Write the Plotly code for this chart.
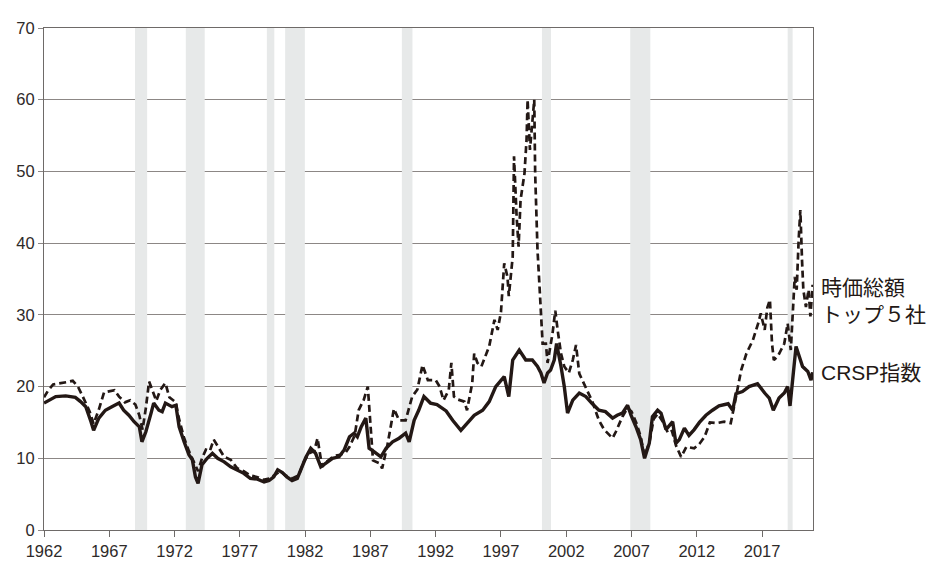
import plotly.graph_objects as go

# --- Data ---
crsp_x = [1962.0, 1962.4, 1962.9, 1963.66, 1964.4, 1964.8, 1965.2, 1965.6, 1965.8, 1966.2,
          1966.7, 1967.2, 1967.75, 1968.1, 1968.5, 1968.9, 1969.3, 1969.5, 1969.8, 1970.2,
          1970.4, 1970.8, 1971.05, 1971.3, 1971.8, 1972.1, 1972.35, 1972.73, 1973.1, 1973.36,
          1973.6, 1973.8, 1974.1, 1974.5, 1974.9, 1975.3, 1975.8, 1976.3, 1976.8, 1977.3,
          1977.8, 1978.35, 1978.86, 1979.24, 1979.6, 1979.9, 1980.26, 1980.6, 1981.0, 1981.4,
          1981.67, 1982.05, 1982.43, 1982.8, 1983.2, 1983.6, 1984.1, 1984.6, 1985.0, 1985.4,
          1985.75, 1986.0, 1986.3, 1986.65, 1986.9, 1987.3, 1987.8, 1988.2, 1988.7, 1989.2,
          1989.7, 1989.97, 1990.35, 1990.7, 1991.1, 1991.6, 1992.1, 1992.8, 1993.3, 1993.93,
          1994.4, 1994.95, 1995.6, 1996.1, 1996.6, 1997.25, 1997.6, 1997.9, 1998.4, 1998.9,
          1999.4, 1999.8, 2000.06, 2000.3, 2000.57, 2000.8, 2001.08, 2001.26, 2001.6, 2001.85,
          2002.1, 2002.5, 2003.0, 2003.5, 2004.0, 2004.5, 2005.0, 2005.55, 2005.9, 2006.3,
          2006.7, 2006.96, 2007.34, 2007.7, 2008.0, 2008.36, 2008.6, 2009.0, 2009.26, 2009.64,
          2010.15, 2010.4, 2010.66, 2011.05, 2011.4, 2011.8, 2012.2, 2012.7, 2013.2, 2013.7,
          2014.4, 2014.75, 2015.0, 2015.5, 2016.0, 2016.65, 2017.2, 2017.55, 2017.86, 2018.3,
          2018.7, 2018.96, 2019.14, 2019.35, 2019.6, 2019.85, 2020.1, 2020.5, 2020.75, 2020.87]
crsp_y = [17.7, 18.1, 18.6, 18.7, 18.5, 17.9, 17.2, 15.1, 13.9, 15.6,
          16.7, 17.2, 17.7, 16.7, 16.0, 15.1, 14.4, 12.3, 13.7, 16.3,
          17.7, 16.7, 16.5, 17.7, 17.2, 17.4, 14.4, 12.3, 10.5, 9.8,
          7.4, 6.5, 9.1, 10.0, 10.7, 10.0, 9.5, 8.8, 8.4, 7.9,
          7.2, 7.1, 6.7, 6.9, 7.4, 8.4, 8.0, 7.4, 6.9, 7.2,
          8.4, 10.1, 11.4, 10.7, 8.8, 9.3, 10.0, 10.2, 11.2, 13.0,
          13.5, 13.0, 14.4, 15.6, 11.4, 10.9, 10.2, 11.4, 12.3, 12.8,
          13.5, 12.3, 15.3, 16.7, 18.6, 17.7, 17.5, 16.6, 15.3, 13.9,
          14.9, 16.0, 16.7, 17.9, 20.0, 21.4, 18.6, 23.7, 25.1, 23.7,
          23.7, 22.8, 21.9, 20.5, 21.9, 22.3, 23.7, 26.0, 22.8, 20.0,
          16.3, 18.1, 19.1, 18.6, 17.6, 16.7, 16.5, 15.6, 16.0, 16.3,
          17.4, 16.0, 14.4, 12.6, 10.0, 12.1, 15.8, 16.7, 16.3, 14.0,
          15.1, 12.1, 12.6, 14.2, 13.2, 14.0, 15.0, 16.0, 16.7, 17.3,
          17.6, 16.7, 19.0, 19.3, 20.0, 20.4, 19.1, 18.4, 16.7, 18.4,
          19.1, 20.0, 17.3, 21.3, 25.6, 24.2, 22.8, 22.1, 20.9, 22.0]

top5_x = [1962.0, 1962.3, 1962.7, 1963.2, 1963.7, 1964.2, 1964.6, 1965.0, 1965.5, 1965.8,
          1966.2, 1966.6, 1967.0, 1967.4, 1967.75, 1968.2, 1968.6, 1969.0, 1969.3, 1969.55,
          1969.8, 1970.05, 1970.3, 1970.6, 1970.9, 1971.3, 1971.6, 1971.9, 1972.1, 1972.3,
          1972.7, 1973.1, 1973.5, 1973.8, 1974.1, 1974.4, 1974.7, 1975.0, 1975.4, 1975.8,
          1976.3, 1976.8, 1977.3, 1977.8, 1978.3, 1978.8, 1979.3, 1979.7, 1980.1, 1980.5,
          1981.0, 1981.5, 1981.9, 1982.3, 1982.7, 1982.95, 1983.3, 1983.7, 1984.2, 1984.7,
          1985.1, 1985.4, 1985.8, 1986.1, 1986.5, 1986.8, 1987.0, 1987.2, 1987.7, 1987.9,
          1988.3, 1988.8, 1989.2, 1989.7, 1990.2, 1990.6, 1990.99, 1991.4, 1992.0, 1992.3,
          1992.6, 1993.0, 1993.2, 1993.4, 1993.7, 1994.2, 1994.4, 1994.8, 1994.95, 1995.2,
          1995.5, 1995.85, 1996.1, 1996.5, 1996.75, 1997.0, 1997.25, 1997.5, 1997.6, 1997.9,
          1998.0, 1998.2, 1998.35, 1998.5, 1998.8, 1998.96, 1999.04, 1999.22, 1999.4, 1999.55,
          1999.62, 1999.7, 1999.8, 1999.94, 2000.06, 2000.19, 2000.44, 2000.57, 2000.95, 2001.16,
          2001.34, 2001.6, 2001.85, 2002.2, 2002.5, 2002.75, 2003.0, 2003.5, 2004.0, 2004.5,
          2004.9, 2005.55, 2005.8, 2006.3, 2006.7, 2007.0, 2007.4, 2007.7, 2008.0, 2008.4,
          2008.7, 2009.0, 2009.4, 2009.8, 2010.1, 2010.4, 2010.8, 2011.2, 2011.8, 2012.2,
          2012.6, 2013.0, 2013.5, 2014.1, 2014.6, 2014.9, 2015.4, 2015.8, 2016.3, 2016.7,
          2016.9, 2017.2, 2017.4, 2017.6, 2017.76, 2017.9, 2018.2, 2018.45, 2018.7, 2018.96,
          2019.2, 2019.5, 2019.65, 2019.8, 2019.93, 2020.06, 2020.16, 2020.36, 2020.56, 2020.7,
          2020.87]
top5_y = [18.5, 19.4, 20.3, 20.4, 20.6, 20.8, 20.0, 18.5, 16.5, 14.8,
          16.8, 19.2, 19.4, 19.5, 18.6, 17.8, 18.1, 17.5, 16.0, 14.0,
          17.0, 20.7, 19.5, 18.0, 19.5, 20.5, 18.5, 18.0, 17.8, 15.8,
          13.0, 11.0, 9.5, 8.2, 10.0, 11.2, 11.0, 12.6, 11.4, 10.2,
          9.8, 8.6, 8.2, 7.6, 7.4, 7.0, 7.2, 7.7, 8.2, 7.6,
          7.2, 7.6, 9.5, 10.7, 11.0, 12.8, 8.8, 9.6, 10.3, 10.5,
          10.8, 11.6, 13.2, 16.7, 18.2, 20.0, 14.0, 9.7, 9.3, 8.6,
          11.8, 16.9, 15.3, 15.3, 18.6, 19.6, 23.0, 20.9, 20.9, 20.0,
          18.1, 19.5, 23.3, 18.6, 18.2, 17.9, 16.7, 20.5, 24.6, 23.3,
          22.8, 24.6, 25.6, 29.3, 27.9, 30.4, 37.2, 35.3, 32.6, 38.1,
          52.1, 43.7, 39.5, 46.0, 49.7, 54.4, 60.0, 53.0, 57.6, 60.0,
          49.7, 43.7, 39.0, 34.4, 29.3, 26.0, 26.0, 23.3, 27.4, 30.6,
          27.9, 24.6, 22.8, 21.9, 23.7, 25.8, 21.8, 19.8, 17.9, 15.3,
          14.0, 12.8, 13.7, 15.8, 17.0, 16.5, 14.8, 13.0, 10.3, 12.5,
          15.5, 16.2, 15.1, 13.5, 13.8, 11.8, 10.2, 11.6, 11.4, 12.0,
          13.0, 15.0, 14.9, 15.1, 14.9, 17.6, 22.3, 24.6, 26.5, 28.8,
          30.2, 27.9, 31.0, 32.1, 26.0, 23.7, 24.2, 25.1, 26.0, 28.8,
          25.1, 35.3, 33.5, 40.4, 44.6, 37.6, 33.5, 31.1, 33.5, 29.8,
          34.2]

recession_start = [1968.97, 1972.86, 1979.07, 1980.47, 1989.41, 2000.14, 2006.90, 2018.96]
recession_end = [1969.90, 1974.31, 1979.64, 1981.98, 1990.22, 2000.83, 2008.44, 2019.34]

x_ticks = [1962, 1967, 1972, 1977, 1982, 1987, 1992, 1997, 2002, 2007, 2012, 2017]
y_ticks = [0, 10, 20, 30, 40, 50, 60, 70]

label_top5 = "時価総額<br>トップ５社"
label_crsp = "CRSP指数"

INK = "#231815"

fig = go.Figure()
fig.add_trace(go.Scatter(x=top5_x, y=top5_y, mode="lines",
                         line=dict(color=INK, width=2.7, dash="7px,4px"),
                         showlegend=False, hoverinfo="skip"))
fig.add_trace(go.Scatter(x=crsp_x, y=crsp_y, mode="lines",
                         line=dict(color=INK, width=3.4),
                         showlegend=False, hoverinfo="skip"))

for s, e in zip(recession_start, recession_end):
    fig.add_shape(type="rect", xref="x", yref="y", x0=s, x1=e, y0=0, y1=70,
                  fillcolor="#e7e9e9", line=dict(width=0), layer="between")

label_font = dict(family="Liberation Sans, Noto Sans CJK JP", size=21, color=INK)
fig.add_annotation(x=1.008, y=31.9, xref="paper", yref="y", text=label_top5,
                   showarrow=False, xanchor="left", yanchor="middle", align="left",
                   font=label_font)
fig.add_annotation(x=1.008, y=22.0, xref="paper", yref="y", text=label_crsp,
                   showarrow=False, xanchor="left", yanchor="middle", align="left",
                   font=label_font)

axis_font = dict(family="Liberation Sans, Arial, sans-serif", size=16.5, color="#2e2a29")

fig.update_xaxes(range=[1962, 2020.9], tickmode="array", tickvals=x_ticks,
                 ticktext=[str(v) for v in x_ticks], showgrid=False, zeroline=False,
                 showline=True, linecolor="#6e6a68", linewidth=1.2, mirror=True,
                 ticks="outside", ticklen=6, tickcolor="#6e6a68", tickwidth=1.2,
                 tickfont=axis_font)
fig.update_yaxes(range=[0, 70], tickmode="array", tickvals=y_ticks,
                 showgrid=True, gridcolor="#8c8785", gridwidth=1, zeroline=False,
                 showline=True, linecolor="#6e6a68", linewidth=1.2, mirror=True,
                 ticks="outside", ticklen=5, tickcolor="#8c8785", tickwidth=1,
                 tickfont=axis_font)

fig.update_layout(width=951, height=577, margin=dict(l=44, r=138, t=28, b=47),
                  paper_bgcolor="white", plot_bgcolor="white")

fig.write_html("out.html")
